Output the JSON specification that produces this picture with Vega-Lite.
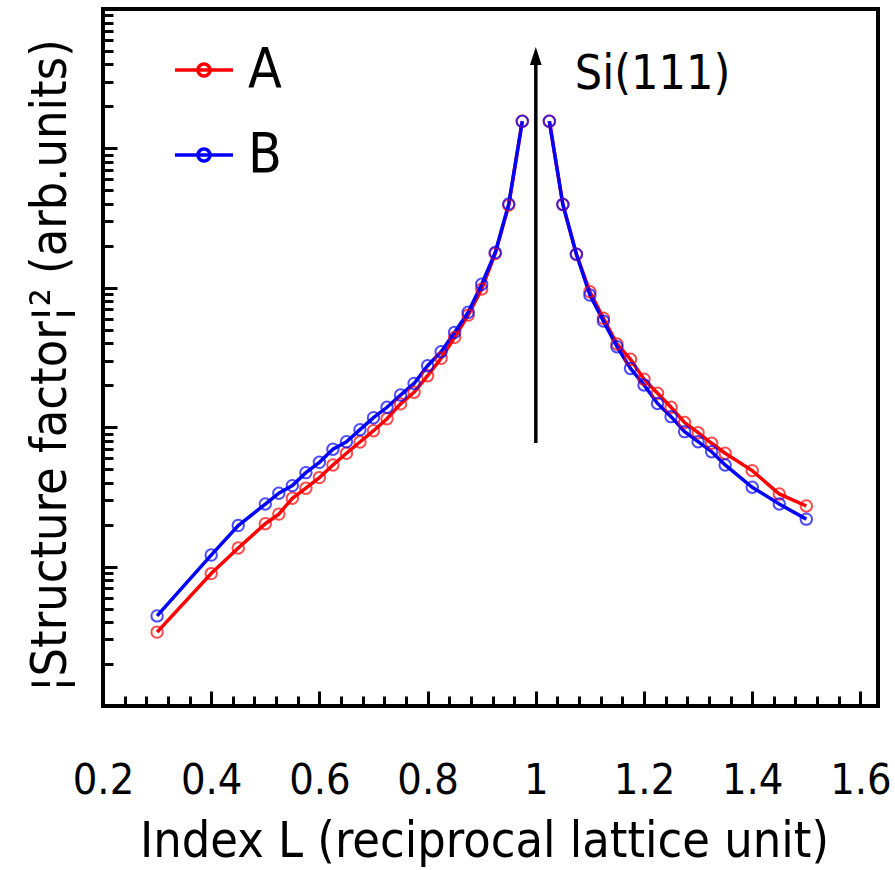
{
  "$schema": "https://vega.github.io/schema/vega-lite/v6.json",
  "width": 775,
  "height": 697,
  "autosize": {"type": "none"},
  "padding": {"left": 103, "top": 9, "right": 17, "bottom": 164},
  "background": "white",
  "config": {
    "view": {"stroke": "black", "strokeWidth": 4},
    "font": "DejaVu Sans Condensed, Liberation Sans, sans-serif",
    "axis": {"domain": false, "grid": false, "tickColor": "black", "tickWidth": 3, "labelColor": "black", "titleColor": "black", "labelFont": "DejaVu Sans Condensed, Liberation Sans, sans-serif", "titleFont": "DejaVu Sans Condensed, Liberation Sans, sans-serif", "titleFontWeight": "normal"}
  },
  "datasets": {
    "curves": [
      {"L": 0.3, "v": 0.339, "s": "A", "seg": "left"},
      {"L": 0.4, "v": 0.891, "s": "A", "seg": "left"},
      {"L": 0.45, "v": 1.36, "s": "A", "seg": "left"},
      {"L": 0.5, "v": 2.03, "s": "A", "seg": "left"},
      {"L": 0.525, "v": 2.38, "s": "A", "seg": "left"},
      {"L": 0.55, "v": 3.09, "s": "A", "seg": "left"},
      {"L": 0.575, "v": 3.65, "s": "A", "seg": "left"},
      {"L": 0.6, "v": 4.35, "s": "A", "seg": "left"},
      {"L": 0.625, "v": 5.36, "s": "A", "seg": "left"},
      {"L": 0.65, "v": 6.5, "s": "A", "seg": "left"},
      {"L": 0.675, "v": 7.83, "s": "A", "seg": "left"},
      {"L": 0.7, "v": 9.44, "s": "A", "seg": "left"},
      {"L": 0.725, "v": 11.5, "s": "A", "seg": "left"},
      {"L": 0.75, "v": 14.7, "s": "A", "seg": "left"},
      {"L": 0.775, "v": 17.8, "s": "A", "seg": "left"},
      {"L": 0.8, "v": 23.4, "s": "A", "seg": "left"},
      {"L": 0.825, "v": 31.2, "s": "A", "seg": "left"},
      {"L": 0.85, "v": 44.1, "s": "A", "seg": "left"},
      {"L": 0.875, "v": 63.7, "s": "A", "seg": "left"},
      {"L": 0.9, "v": 97.9, "s": "A", "seg": "left"},
      {"L": 0.925, "v": 176, "s": "A", "seg": "left"},
      {"L": 0.95, "v": 392, "s": "A", "seg": "left"},
      {"L": 0.975, "v": 1567, "s": "A", "seg": "left"},
      {"L": 1.025, "v": 1567, "s": "A", "seg": "right"},
      {"L": 1.05, "v": 396, "s": "A", "seg": "right"},
      {"L": 1.075, "v": 174, "s": "A", "seg": "right"},
      {"L": 1.1, "v": 93.6, "s": "A", "seg": "right"},
      {"L": 1.125, "v": 60.4, "s": "A", "seg": "right"},
      {"L": 1.15, "v": 39.5, "s": "A", "seg": "right"},
      {"L": 1.175, "v": 30.7, "s": "A", "seg": "right"},
      {"L": 1.2, "v": 22.1, "s": "A", "seg": "right"},
      {"L": 1.225, "v": 17.5, "s": "A", "seg": "right"},
      {"L": 1.25, "v": 13.9, "s": "A", "seg": "right"},
      {"L": 1.275, "v": 10.8, "s": "A", "seg": "right"},
      {"L": 1.3, "v": 9.13, "s": "A", "seg": "right"},
      {"L": 1.325, "v": 7.67, "s": "A", "seg": "right"},
      {"L": 1.35, "v": 6.5, "s": "A", "seg": "right"},
      {"L": 1.4, "v": 4.88, "s": "A", "seg": "right"},
      {"L": 1.45, "v": 3.32, "s": "A", "seg": "right"},
      {"L": 1.5, "v": 2.72, "s": "A", "seg": "right"},
      {"L": 0.3, "v": 0.443, "s": "B", "seg": "left"},
      {"L": 0.4, "v": 1.21, "s": "B", "seg": "left"},
      {"L": 0.45, "v": 1.97, "s": "B", "seg": "left"},
      {"L": 0.5, "v": 2.81, "s": "B", "seg": "left"},
      {"L": 0.525, "v": 3.36, "s": "B", "seg": "left"},
      {"L": 0.55, "v": 3.81, "s": "B", "seg": "left"},
      {"L": 0.575, "v": 4.72, "s": "B", "seg": "left"},
      {"L": 0.6, "v": 5.6, "s": "B", "seg": "left"},
      {"L": 0.625, "v": 6.95, "s": "B", "seg": "left"},
      {"L": 0.65, "v": 7.87, "s": "B", "seg": "left"},
      {"L": 0.675, "v": 9.6, "s": "B", "seg": "left"},
      {"L": 0.7, "v": 11.7, "s": "B", "seg": "left"},
      {"L": 0.725, "v": 13.9, "s": "B", "seg": "left"},
      {"L": 0.75, "v": 17.0, "s": "B", "seg": "left"},
      {"L": 0.775, "v": 20.6, "s": "B", "seg": "left"},
      {"L": 0.8, "v": 27.6, "s": "B", "seg": "left"},
      {"L": 0.825, "v": 34.8, "s": "B", "seg": "left"},
      {"L": 0.85, "v": 47.9, "s": "B", "seg": "left"},
      {"L": 0.875, "v": 66.7, "s": "B", "seg": "left"},
      {"L": 0.9, "v": 106, "s": "B", "seg": "left"},
      {"L": 0.925, "v": 179, "s": "B", "seg": "left"},
      {"L": 0.95, "v": 400, "s": "B", "seg": "left"},
      {"L": 0.975, "v": 1567, "s": "B", "seg": "left"},
      {"L": 1.025, "v": 1567, "s": "B", "seg": "right"},
      {"L": 1.05, "v": 396, "s": "B", "seg": "right"},
      {"L": 1.075, "v": 174, "s": "B", "seg": "right"},
      {"L": 1.1, "v": 88.7, "s": "B", "seg": "right"},
      {"L": 1.125, "v": 57.7, "s": "B", "seg": "right"},
      {"L": 1.15, "v": 37.8, "s": "B", "seg": "right"},
      {"L": 1.175, "v": 26.4, "s": "B", "seg": "right"},
      {"L": 1.2, "v": 20.1, "s": "B", "seg": "right"},
      {"L": 1.225, "v": 14.8, "s": "B", "seg": "right"},
      {"L": 1.25, "v": 11.9, "s": "B", "seg": "right"},
      {"L": 1.275, "v": 9.29, "s": "B", "seg": "right"},
      {"L": 1.3, "v": 7.87, "s": "B", "seg": "right"},
      {"L": 1.325, "v": 6.67, "s": "B", "seg": "right"},
      {"L": 1.35, "v": 5.36, "s": "B", "seg": "right"},
      {"L": 1.4, "v": 3.71, "s": "B", "seg": "right"},
      {"L": 1.45, "v": 2.81, "s": "B", "seg": "right"},
      {"L": 1.5, "v": 2.19, "s": "B", "seg": "right"}
    ],
    "arrow": [{"L": 1.0, "y0": 7.7, "y1": 4600}],
    "label": [{"L": 1.072, "v": 3350, "text": "Si(111)"}]
  },
  "resolve": {"axis": {"x": "independent", "y": "independent"}},
  "layer": [
    {
      "data": {"name": "curves"},
      "mark": {"type": "line", "strokeWidth": 3.5, "clip": false},
      "encoding": {
        "x": {"field": "L", "type": "quantitative", "scale": {"domain": [0.2, 1.6325], "nice": false, "zero": false},
          "axis": {"orient": "bottom", "values": [0.2, 0.4, 0.6, 0.8, 1, 1.2, 1.4, 1.6], "format": "~g", "ticks": false, "tickSize": 0, "labelFontSize": 43, "labelPadding": 74, "labelBaseline": "middle", "labelFlush": false, "labelOverlap": false, "labelBound": false, "title": "Index L (reciprocal lattice unit)", "titleFontSize": 50, "titleX": 381, "titleY": 135, "titleAlign": "center", "titleBaseline": "middle", "titleAnchor": null}},
        "y": {"field": "v", "type": "quantitative", "scale": {"type": "log", "domain": [0.1, 10000], "nice": false},
          "axis": {"orient": "left", "values": [1, 10, 100, 1000], "labels": false, "tickSize": -14, "title": "¦Structure factor¦² (arb.units)", "titleFontSize": 50, "titleAngle": -90, "titleX": -53, "titleY": 356, "titleAlign": "center", "titleBaseline": "middle"}},
        "color": {"field": "s", "type": "nominal", "scale": {"domain": ["A", "B"], "range": ["#ff0000", "#0000ff"]},
          "legend": {"title": null, "orient": "none", "legendX": 70, "legendY": 30, "padding": 0, "symbolType": "M-1,0L1,0M0.21,0A0.21,0.21,0,1,1,-0.21,0A0.21,0.21,0,1,1,0.21,0", "symbolSize": 3364, "symbolStrokeWidth": 3.5, "symbolFillColor": "transparent", "labelFontSize": 55, "labelFont": "DejaVu Sans Condensed, Liberation Sans, sans-serif", "labelColor": "black", "labelOffset": 13, "rowPadding": 26}},
        "detail": {"field": "seg", "type": "nominal"}
      }
    },
    {
      "data": {"name": "curves"},
      "mark": {"type": "point", "shape": "circle", "filled": false, "size": 130, "strokeWidth": 2, "clip": false},
      "encoding": {
        "x": {"field": "L", "type": "quantitative",
          "axis": {"orient": "bottom", "values": [0.4, 0.6, 0.8, 1, 1.2, 1.4, 1.6], "labels": false, "tickSize": -15, "title": null}},
        "y": {"field": "v", "type": "quantitative",
          "axis": {"orient": "left", "values": [0.2, 0.3, 0.4, 0.5, 0.6, 0.7, 0.8, 0.9, 2, 3, 4, 5, 6, 7, 8, 9, 20, 30, 40, 50, 60, 70, 80, 90, 200, 300, 400, 500, 600, 700, 800, 900, 2000, 3000, 4000, 5000, 6000, 7000, 8000, 9000], "labels": false, "tickSize": -10, "title": null}},
        "stroke": {"field": "s", "type": "nominal", "scale": {"domain": ["A", "B"], "range": ["#ff0000", "#0000ff"]}, "legend": null}
      }
    },
    {
      "data": {"name": "arrow"},
      "mark": {"type": "rule", "color": "black", "strokeWidth": 3.5},
      "encoding": {
        "x": {"field": "L", "type": "quantitative",
          "axis": {"orient": "bottom", "values": [0.24, 0.28, 0.32, 0.36, 0.44, 0.48, 0.52, 0.56, 0.64, 0.68, 0.72, 0.76, 0.84, 0.88, 0.92, 0.96, 1.04, 1.08, 1.12, 1.16, 1.24, 1.28, 1.32, 1.36, 1.44, 1.48, 1.52, 1.56], "labels": false, "tickSize": -10, "title": null}},
        "y": {"field": "y0", "type": "quantitative", "axis": null},
        "y2": {"field": "y1"}
      }
    },
    {
      "data": {"name": "arrow"},
      "mark": {"type": "point", "shape": "M0,-1L0.65,1L-0.65,1Z", "filled": true, "color": "black", "size": 324, "opacity": 1},
      "encoding": {
        "x": {"field": "L", "type": "quantitative", "axis": null},
        "y": {"field": "y1", "type": "quantitative", "axis": null}
      }
    },
    {
      "data": {"name": "label"},
      "mark": {"type": "text", "align": "left", "baseline": "middle", "fontSize": 48, "font": "DejaVu Sans Condensed, Liberation Sans, sans-serif", "color": "black"},
      "encoding": {
        "x": {"field": "L", "type": "quantitative", "axis": null},
        "y": {"field": "v", "type": "quantitative", "axis": null},
        "text": {"field": "text"}
      }
    }
  ]
}
